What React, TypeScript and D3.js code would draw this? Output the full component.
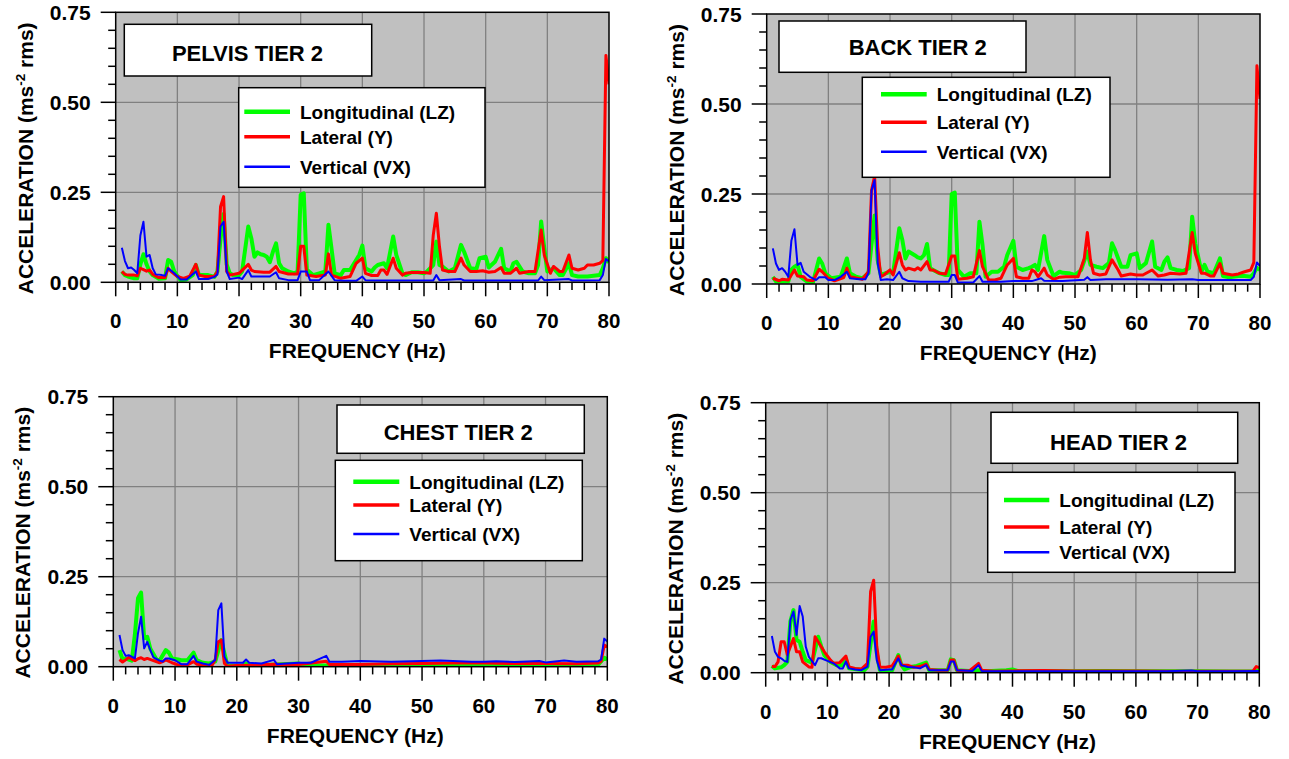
import React from 'react';
import * as d3 from 'd3';

type Pt = [number, number];

// ---------- data (frequency Hz, acceleration ms^-2 rms) ----------
const xTickValues = [0, 10, 20, 30, 40, 50, 60, 70, 80];
const yTickValues = [0, 0.25, 0.5, 0.75];
const seriesNames = ['Longitudinal (LZ)', 'Lateral (Y)', 'Vertical (VX)'];
const panelTitles = ['PELVIS TIER 2', 'BACK TIER 2', 'CHEST TIER 2', 'HEAD TIER 2'];

const pelvisLZ: Pt[] = [[1,0.03],[1.5,0.02],[2,0.016],[3,0.011],[3.5,0.011],[4,0.05],[4.5,0.078],[5,0.05],[5.5,0.03],[6,0.02],[7,0.01],[8,0.011],[8.5,0.062],[9,0.057],[9.5,0.03],[10,0.018],[10.5,0.006],[11.5,0.008],[12.5,0.02],[13,0.048],[13.5,0.02],[14.5,0.02],[15,0.02],[16,0.015],[16.5,0.03],[17,0.12],[17.5,0.19],[18,0.05],[18.5,0.025],[19,0.02],[20,0.02],[20.5,0.03],[21.5,0.155],[22,0.122],[22.5,0.071],[23,0.083],[23.5,0.078],[24,0.076],[24.5,0.071],[25,0.056],[25.5,0.085],[26,0.108],[26.5,0.053],[27,0.039],[28,0.03],[29,0.025],[29.5,0.03],[30,0.243],[30.5,0.247],[31,0.035],[32,0.02],[33,0.025],[34,0.03],[34.5,0.16],[35,0.094],[35.5,0.025],[36.5,0.02],[37,0.034],[38,0.034],[38.5,0.048],[39.5,0.076],[40,0.102],[40.5,0.039],[41.5,0.03],[42,0.041],[42.5,0.048],[43.5,0.053],[44,0.039],[45,0.127],[45.5,0.076],[46.5,0.025],[47,0.02],[48,0.028],[49,0.028],[50,0.025],[50.5,0.03],[51.5,0.048],[52,0.113],[52.5,0.048],[53,0.044],[54,0.03],[55,0.039],[56,0.104],[56.5,0.085],[57.5,0.039],[58.5,0.037],[59,0.067],[60,0.071],[60.5,0.041],[61.5,0.057],[62.5,0.093],[63,0.039],[64,0.03],[64.5,0.053],[65,0.057],[66,0.03],[67,0.025],[68,0.025],[68.5,0.048],[69,0.169],[69.5,0.095],[70,0.03],[71,0.039],[72,0.02],[72.5,0.02],[73.5,0.053],[74,0.02],[75,0.016],[76.5,0.016],[77.5,0.018],[78.5,0.02],[79,0.039],[79.5,0.067],[80,0.055]];
const pelvisY: Pt[] = [[1,0.03],[1.5,0.022],[2,0.02],[3,0.02],[3.5,0.018],[4,0.039],[4.5,0.035],[5,0.031],[5.5,0.034],[6,0.022],[7,0.013],[8,0.013],[8.5,0.039],[9,0.03],[10,0.016],[11,0.011],[12,0.017],[13,0.05],[13.5,0.02],[14.5,0.016],[16,0.016],[16.5,0.03],[17,0.21],[17.5,0.238],[18,0.03],[18.5,0.02],[20,0.025],[21.5,0.05],[22,0.034],[22.5,0.03],[24,0.028],[25,0.028],[26,0.044],[26.5,0.03],[28,0.023],[29.5,0.023],[30,0.1],[30.5,0.1],[31,0.02],[32.5,0.016],[34,0.02],[34.5,0.079],[35,0.02],[36.5,0.011],[38,0.016],[39,0.053],[40,0.067],[40.5,0.025],[41.5,0.019],[42.5,0.019],[43,0.034],[43.5,0.034],[44,0.022],[45,0.067],[45.5,0.039],[46.5,0.02],[47,0.025],[48,0.027],[50,0.027],[51,0.025],[51.5,0.131],[52,0.192],[52.5,0.1],[53,0.034],[54,0.03],[55,0.03],[56,0.067],[56.5,0.048],[57.5,0.03],[58.5,0.03],[59.5,0.032],[60.5,0.028],[61.5,0.03],[62.5,0.041],[63,0.025],[64,0.025],[65,0.039],[65.5,0.025],[67,0.03],[68,0.03],[69,0.145],[69.5,0.076],[70.5,0.025],[71,0.044],[72,0.03],[72.5,0.03],[73.5,0.076],[74,0.039],[75,0.034],[76,0.039],[76.5,0.048],[77.5,0.048],[78.5,0.053],[79,0.06],[79.5,0.63],[80,0.55]];
const pelvisVX: Pt[] = [[1,0.096],[1.5,0.059],[2,0.039],[2.5,0.041],[3,0.034],[3.5,0.025],[4,0.13],[4.5,0.168],[5,0.071],[5.5,0.076],[6,0.039],[6.5,0.022],[7.5,0.02],[8,0.018],[8.5,0.039],[9.5,0.025],[10.5,0.008],[11.5,0.008],[13,0.03],[13.5,0.009],[15,0.009],[16,0.015],[16.5,0.022],[17,0.155],[17.5,0.168],[18,0.03],[18.5,0.009],[20,0.013],[20.5,0.009],[21.5,0.034],[22,0.016],[23,0.016],[25,0.016],[26,0.028],[26.5,0.011],[28,0.006],[29.5,0.006],[30,0.03],[31,0.03],[31.5,0.006],[33,0.006],[34.5,0.03],[35.5,0.006],[37,0.004],[39,0.004],[40,0.016],[40.5,0.006],[42,0.005],[46,0.005],[51.5,0.005],[52,0.02],[52.5,0.006],[56,0.009],[56.5,0.005],[62,0.005],[68.5,0.005],[69,0.016],[69.5,0.006],[73.5,0.009],[74,0.005],[78.5,0.006],[79,0.02],[79.5,0.065],[80,0.058]];

const backLZ: Pt[] = [[1,0.02],[1.5,0.007],[2.5,0.007],[3.5,0.007],[4,0.04],[4.5,0.048],[5,0.053],[5.5,0.02],[6.5,0.007],[7.5,0.004],[8.5,0.071],[9,0.057],[9.5,0.03],[10.5,0.016],[12,0.02],[13,0.071],[13.5,0.03],[14.5,0.02],[15.5,0.016],[16.5,0.03],[17.5,0.19],[18,0.066],[18.5,0.025],[20,0.034],[20.5,0.03],[21.5,0.155],[22,0.122],[22.5,0.071],[23,0.09],[24,0.08],[24.5,0.074],[25,0.071],[25.5,0.08],[26,0.111],[26.5,0.044],[27,0.039],[28,0.03],[29,0.025],[29.5,0.025],[30,0.25],[30.5,0.254],[31,0.039],[32,0.02],[33,0.03],[34,0.03],[34.5,0.173],[35,0.108],[35.5,0.02],[36.5,0.034],[37.5,0.034],[38.5,0.048],[39,0.08],[40,0.12],[40.5,0.048],[41.5,0.039],[42.5,0.044],[43,0.048],[43.5,0.053],[44,0.039],[45,0.133],[45.5,0.067],[46.5,0.022],[47.5,0.034],[48,0.031],[49,0.03],[50,0.025],[51,0.039],[52,0.09],[52.5,0.053],[53.5,0.048],[54.5,0.044],[55.5,0.058],[56,0.113],[56.5,0.094],[57.5,0.048],[58.5,0.048],[59,0.08],[60,0.085],[60.5,0.044],[61.5,0.058],[62.5,0.118],[63,0.048],[64,0.039],[64.5,0.062],[65,0.074],[65.5,0.044],[66.5,0.039],[67.5,0.036],[68.5,0.044],[69,0.187],[69.5,0.113],[70.5,0.034],[71,0.053],[71.5,0.034],[72.5,0.03],[73.5,0.071],[74,0.022],[75,0.019],[76.5,0.022],[77.5,0.022],[78.5,0.02],[79,0.03],[79.5,0.045],[80,0.039]];
const backY: Pt[] = [[1,0.016],[2,0.009],[2.5,0.013],[3.5,0.011],[4.5,0.039],[5,0.022],[6,0.02],[6.5,0.011],[7.5,0.009],[8.5,0.041],[9,0.034],[10,0.016],[11,0.009],[12.5,0.018],[13,0.044],[13.5,0.02],[14.5,0.017],[15.5,0.013],[16.5,0.034],[17,0.26],[17.5,0.3],[18,0.104],[18.5,0.02],[19,0.025],[20,0.039],[20.5,0.025],[21.5,0.087],[22,0.053],[22.5,0.039],[23,0.044],[24,0.039],[24.5,0.045],[25,0.039],[26,0.062],[26.5,0.039],[27,0.039],[28,0.03],[29,0.028],[30,0.078],[30.5,0.078],[31,0.013],[32.5,0.016],[33.5,0.02],[34.5,0.093],[35,0.048],[36,0.011],[37,0.011],[38,0.016],[39,0.053],[40,0.071],[40.5,0.02],[41.5,0.016],[42.5,0.016],[43,0.039],[43.5,0.034],[44,0.02],[45,0.044],[45.5,0.025],[46.5,0.013],[47.5,0.019],[48.5,0.02],[50.5,0.02],[51.5,0.071],[52,0.143],[52.5,0.067],[53,0.03],[54,0.025],[55,0.028],[56,0.067],[57,0.039],[57.5,0.022],[59,0.028],[60,0.025],[61,0.025],[62.5,0.039],[63.5,0.022],[64.5,0.025],[65.5,0.03],[67,0.028],[68,0.03],[69,0.143],[69.5,0.085],[70.5,0.03],[71,0.03],[72,0.022],[72.5,0.022],[73.5,0.057],[74,0.03],[75.5,0.025],[76.5,0.028],[77.5,0.034],[78.5,0.039],[79,0.06],[79.5,0.606],[80,0.514]];
const backVX: Pt[] = [[1,0.099],[1.5,0.057],[2,0.039],[2.5,0.044],[3,0.034],[3.5,0.02],[4,0.12],[4.5,0.152],[5,0.053],[5.5,0.059],[6,0.034],[7,0.02],[8,0.011],[8.5,0.019],[9.5,0.019],[10,0.011],[11,0.011],[12,0.02],[13,0.034],[13.5,0.016],[15,0.013],[16,0.013],[16.5,0.03],[17,0.26],[17.5,0.289],[18,0.057],[18.5,0.011],[19.5,0.013],[20.5,0.011],[21.5,0.034],[22,0.016],[23,0.008],[25,0.006],[27,0.006],[29.5,0.006],[30,0.025],[30.5,0.025],[31,0.004],[33.5,0.004],[34.5,0.022],[35,0.006],[38,0.006],[40,0.008],[43,0.008],[44.5,0.016],[45,0.009],[48,0.008],[51.5,0.012],[52,0.019],[52.5,0.011],[55,0.013],[60,0.013],[65,0.012],[69,0.013],[70,0.011],[78.5,0.011],[79,0.02],[79.5,0.06],[80,0.05]];

const chestLZ: Pt[] = [[1,0.046],[1.5,0.02],[2,0.023],[2.5,0.02],[3,0.017],[3.5,0.09],[4,0.19],[4.5,0.206],[5,0.079],[5.5,0.083],[6,0.05],[7,0.02],[7.5,0.017],[8.5,0.046],[9,0.039],[9.5,0.023],[10.5,0.02],[11,0.018],[12,0.018],[13,0.039],[13.5,0.018],[14.5,0.011],[15.5,0.009],[16.5,0.014],[17.5,0.074],[18,0.037],[18.5,0.002],[21,0.003],[21.5,0.009],[22,0.003],[30,0.009],[31,0.003],[40,0.003],[50,0.004],[60,0.004],[70,0.004],[78.5,0.005],[79.5,0.025],[80,0.02]];
const chestY: Pt[] = [[1,0.02],[1.5,0.013],[2,0.019],[2.5,0.026],[3.5,0.017],[4,0.022],[4.5,0.025],[5,0.02],[5.5,0.023],[6.5,0.017],[7.5,0.011],[8,0.014],[8.5,0.019],[9.5,0.011],[10.5,0.005],[12,0.005],[13,0.014],[13.5,0.007],[15,0.004],[16,0.004],[16.5,0.019],[17,0.069],[17.5,0.074],[18,0.009],[18.5,0.001],[20,0.003],[22,0.004],[26,0.007],[30,0.006],[34.5,0.015],[35,0.006],[40,0.006],[45,0.008],[50,0.009],[55,0.01],[60,0.01],[65,0.009],[70,0.009],[75,0.008],[78.5,0.01],[79,0.015],[79.5,0.06],[80,0.055]];
const chestVX: Pt[] = [[1,0.088],[1.5,0.046],[2,0.03],[2.5,0.032],[3.5,0.023],[4,0.093],[4.5,0.139],[5,0.051],[5.5,0.069],[6,0.046],[6.5,0.026],[7.5,0.017],[8,0.014],[8.5,0.023],[9,0.023],[10,0.018],[11,0.007],[12,0.007],[13,0.03],[13.5,0.014],[14.5,0.009],[15.5,0.005],[16.5,0.019],[17,0.157],[17.5,0.176],[18,0.028],[18.5,0.011],[20,0.011],[21,0.011],[21.5,0.02],[22,0.011],[24,0.009],[26,0.019],[26.5,0.007],[28,0.009],[30,0.011],[32,0.011],[34.5,0.03],[35,0.014],[37,0.014],[40,0.016],[45,0.014],[50,0.016],[53,0.017],[55,0.016],[58,0.014],[60,0.014],[62,0.015],[65,0.013],[69,0.016],[70,0.012],[73,0.017],[75,0.014],[78.5,0.015],[79,0.02],[79.5,0.078],[80,0.07]];

const headLZ: Pt[] = [[1,0.019],[1.5,0.012],[2.5,0.015],[3,0.021],[3.5,0.03],[4,0.142],[4.5,0.174],[5,0.091],[5.5,0.086],[6,0.058],[6.5,0.035],[7.5,0.028],[8.5,0.1],[9,0.073],[9.5,0.049],[10.5,0.03],[11.5,0.021],[12.5,0.021],[13,0.037],[13.5,0.012],[15,0.009],[16,0.007],[16.5,0.017],[17.5,0.142],[18,0.054],[18.5,0.007],[19.5,0.003],[20.5,0.007],[21.5,0.049],[22,0.021],[22.5,0.009],[23.5,0.016],[24.5,0.019],[26,0.028],[26.5,0.007],[28,0.007],[29.5,0.007],[30,0.037],[30.5,0.035],[31,0.007],[33,0.005],[34.5,0.007],[35,0.003],[39,0.007],[40,0.009],[41,0.004],[45,0.005],[50,0.004],[55,0.005],[60,0.004],[65,0.004],[70,0.004],[75,0.003],[79.5,0.004],[80,0.008]];
const headY: Pt[] = [[1,0.017],[1.5,0.017],[2,0.03],[2.5,0.086],[3,0.086],[3.5,0.05],[4,0.072],[4.5,0.095],[5,0.058],[5.5,0.058],[6,0.03],[7,0.016],[7.5,0.015],[8,0.1],[8.5,0.086],[9.5,0.058],[10.5,0.035],[11,0.026],[12,0.028],[13,0.046],[13.5,0.016],[14.5,0.012],[15.5,0.01],[16.5,0.026],[17,0.225],[17.5,0.257],[18,0.072],[18.5,0.016],[19.5,0.015],[20.5,0.019],[21.5,0.046],[22,0.021],[23,0.021],[24,0.015],[25,0.017],[26,0.024],[26.5,0.009],[28,0.007],[29.5,0.007],[30,0.035],[30.5,0.035],[31,0.007],[33,0.005],[34.5,0.026],[35,0.007],[37,0.004],[40,0.005],[45,0.006],[50,0.005],[55,0.005],[60,0.005],[65,0.004],[70,0.004],[75,0.004],[79,0.005],[79.5,0.017],[80,0.014]];
const headVX: Pt[] = [[1,0.102],[1.5,0.058],[2,0.044],[2.5,0.04],[3,0.033],[3.5,0.03],[4,0.146],[4.5,0.17],[5,0.105],[5.5,0.185],[6,0.156],[6.5,0.072],[7,0.044],[8,0.021],[8.5,0.04],[9,0.04],[10,0.033],[11,0.026],[12,0.012],[12.5,0.012],[13,0.031],[13.5,0.012],[14.5,0.009],[15.5,0.007],[16.5,0.017],[17,0.1],[17.5,0.114],[18,0.035],[18.5,0.007],[20,0.009],[20.5,0.009],[21.5,0.04],[22,0.021],[23,0.016],[24,0.015],[25,0.012],[26,0.021],[26.5,0.007],[29.5,0.007],[30,0.031],[30.5,0.031],[31,0.007],[33.5,0.005],[34.5,0.021],[35,0.005],[40,0.004],[45,0.004],[50,0.004],[55,0.004],[60,0.004],[65,0.004],[69,0.006],[70,0.004],[75,0.004],[80,0.005]];

// ---------- styling / layout ----------
const COLORS = ['#00ff00', '#ff0000', '#0000ff'];
const WIDTHS = [4, 3, 2];
const FONT = '"Liberation Sans", Arial, Helvetica, sans-serif';

interface Layout {
  plot: { x: number; y: number; w: number; h: number };
  tbox: { x: number; y: number; w: number; h: number; cx: number; base: number };
  lbox: { x: number; y: number; w: number; h: number; x1: number; x2: number; tx: number; rows: number[] };
}

const layouts: Layout[] = [
  {
    plot: { x: 115.7, y: 12.3, w: 493.3, h: 270 },
    tbox: { x: 124.3, y: 24.3, w: 247.4, h: 51.7, cx: 247.5, base: 61 },
    lbox: { x: 238.7, y: 87.7, w: 246.3, h: 99.6, x1: 244.3, x2: 290, tx: 300, rows: [111.7, 136.7, 166.7] },
  },
  {
    plot: { x: 766.7, y: 14, w: 493.3, h: 270 },
    tbox: { x: 779, y: 21, w: 247, h: 51.3, cx: 917.7, base: 55 },
    lbox: { x: 862.3, y: 77.3, w: 247.7, h: 100, x1: 881, x2: 926.7, tx: 936.7, rows: [94.3, 122.3, 151.7] },
  },
  {
    plot: { x: 113.3, y: 396.7, w: 494, h: 270 },
    tbox: { x: 337, y: 405, w: 247.3, h: 48.3, cx: 458.3, base: 440 },
    lbox: { x: 335.3, y: 460.3, w: 247, h: 100.4, x1: 353.3, x2: 399.3, tx: 409.3, rows: [481.7, 505, 534] },
  },
  {
    plot: { x: 765.7, y: 402.7, w: 493.6, h: 270 },
    tbox: { x: 991, y: 412.3, w: 246.7, h: 51, cx: 1118.5, base: 450 },
    lbox: { x: 987.7, y: 472.3, w: 247.3, h: 100, x1: 1004, x2: 1049.3, tx: 1059.3, rows: [500, 527, 552.3] },
  },
];

const panelData: Pt[][][] = [
  [pelvisLZ, pelvisY, pelvisVX],
  [backLZ, backY, backVX],
  [chestLZ, chestY, chestVX],
  [headLZ, headY, headVX],
];

function Panel({ idx }: { idx: number }) {
  const L = layouts[idx];
  const { plot } = L;
  const x = d3.scaleLinear().domain([0, 80]).range([plot.x, plot.x + plot.w]);
  const y = d3.scaleLinear().domain([0, 0.75]).range([plot.y + plot.h, plot.y]);
  const line = d3.line<Pt>().x((d) => x(d[0])).y((d) => y(d[1]));
  const xMinor = d3.range(0, 80.001, 2);
  const yMinor = d3.range(0, 0.7501, 0.05);
  const bottom = plot.y + plot.h;
  const clipId = `clip${idx}`;
  return (
    <g>
      <defs>
        <clipPath id={clipId}>
          <rect x={plot.x} y={plot.y} width={plot.w} height={plot.h} />
        </clipPath>
      </defs>
      <rect x={plot.x} y={plot.y} width={plot.w} height={plot.h} fill="#c0c0c0" />
      {xTickValues.slice(1, -1).map((t) => (
        <line key={'gx' + t} x1={x(t)} x2={x(t)} y1={plot.y} y2={bottom} stroke="#808080" strokeWidth={1.3} />
      ))}
      {yTickValues.slice(1, -1).map((t) => (
        <line key={'gy' + t} x1={plot.x} x2={plot.x + plot.w} y1={y(t)} y2={y(t)} stroke="#808080" strokeWidth={1.3} />
      ))}
      <g clipPath={`url(#${clipId})`}>
        {panelData[idx].map((s, i) => (
          <path key={i} d={line(s) || ''} fill="none" stroke={COLORS[i]} strokeWidth={WIDTHS[i]} strokeLinejoin="round" />
        ))}
      </g>
      <rect x={plot.x} y={plot.y} width={plot.w} height={plot.h} fill="none" stroke="#000" strokeWidth={1.5} />
      {xMinor.map((t) => {
        const major = Math.abs(t % 10) < 1e-6;
        return <line key={'xt' + t} x1={x(t)} x2={x(t)} y1={bottom} y2={bottom + (major ? 14 : 7.7)} stroke="#000" strokeWidth={1.5} />;
      })}
      {yMinor.map((t) => {
        const major = Math.abs(Math.round(t * 100) % 25) < 1e-6;
        return <line key={'yt' + t} x1={plot.x} x2={plot.x - (major ? 15 : 7.5)} y1={y(t)} y2={y(t)} stroke="#000" strokeWidth={1.5} />;
      })}
      {xTickValues.map((t) => (
        <text key={'xl' + t} x={x(t)} y={bottom + 46} textAnchor="middle" fontSize={20.5} fontWeight="bold" fontFamily={FONT}>
          {t}
        </text>
      ))}
      {yTickValues.map((t) => (
        <text key={'yl' + t} x={plot.x - 25} y={y(t) + 7.5} textAnchor="end" fontSize={21} fontWeight="bold" fontFamily={FONT}>
          {d3.format('.2f')(t)}
        </text>
      ))}
      <text x={plot.x + plot.w / 2 - 5} y={bottom + 76} textAnchor="middle" fontSize={21} fontWeight="bold" fontFamily={FONT}>
        FREQUENCY (Hz)
      </text>
      <text
        transform={`translate(${plot.x - 83},${plot.y + plot.h / 2 + 11}) rotate(-90)`}
        textAnchor="middle"
        fontSize={21}
        fontWeight="bold"
        fontFamily={FONT}
      >
        ACCELERATION (ms<tspan dy={-8} fontSize={13.5}>-2</tspan>
        <tspan dy={8}> rms)</tspan>
      </text>
      <rect x={L.tbox.x} y={L.tbox.y} width={L.tbox.w} height={L.tbox.h} fill="#fff" stroke="#000" strokeWidth={1.5} />
      <text x={L.tbox.cx} y={L.tbox.base} textAnchor="middle" fontSize={22} fontWeight="bold" fontFamily={FONT}>
        {panelTitles[idx]}
      </text>
      <rect x={L.lbox.x} y={L.lbox.y} width={L.lbox.w} height={L.lbox.h} fill="#fff" stroke="#000" strokeWidth={1.5} />
      {seriesNames.map((n, i) => (
        <g key={n}>
          <line x1={L.lbox.x1} x2={L.lbox.x2} y1={L.lbox.rows[i]} y2={L.lbox.rows[i]} stroke={COLORS[i]} strokeWidth={WIDTHS[i] + 0.5} />
          <text x={L.lbox.tx} y={L.lbox.rows[i] + 7} fontSize={19} fontWeight="bold" fontFamily={FONT}>
            {n}
          </text>
        </g>
      ))}
    </g>
  );
}

export default function App() {
  return (
    <svg
      width={1289}
      height={759}
      viewBox="0 0 1289 759"
      style={{ position: 'absolute', left: 0, top: 0, background: '#fff' }}
    >
      {layouts.map((_, i) => (
        <Panel key={i} idx={i} />
      ))}
    </svg>
  );
}
